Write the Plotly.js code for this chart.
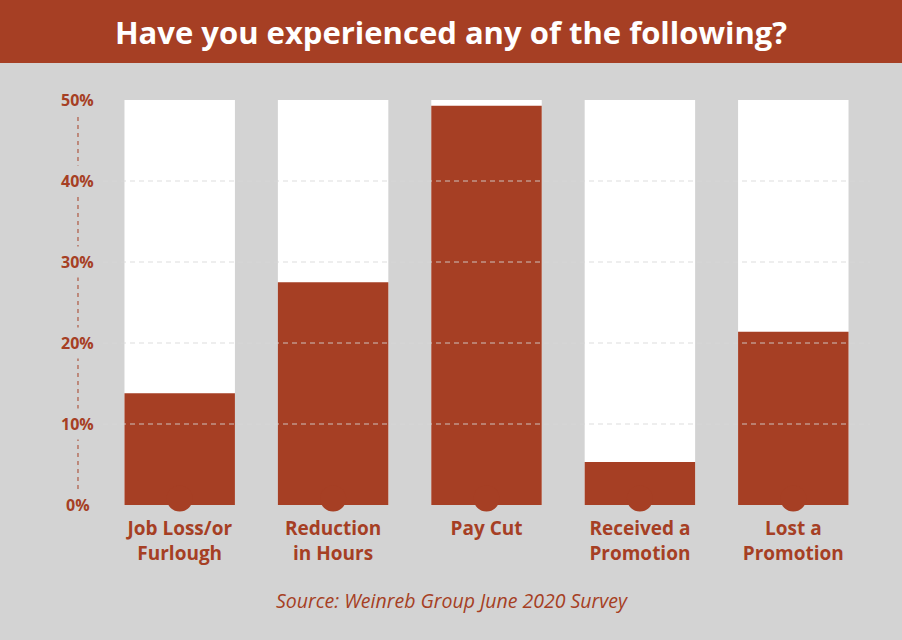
<!DOCTYPE html>
<html>
<head>
<meta charset="utf-8">
<script src="https://cdn.plot.ly/plotly-3.0.1.min.js"></script>
<style>html,body{margin:0;padding:0;background:#D3D3D3;}#chart{width:902px;height:640px;}</style>
</head>
<body>
<div id="chart"></div>
<script>
const categories = ["Job Loss/or<br>Furlough", "Reduction<br>in Hours", "Pay Cut", "Received a<br>Promotion", "Lost a<br>Promotion"];
const percentValues = [13.8, 27.5, 49.3, 5.3, 21.4];
const scaleMax = [50, 50, 50, 50, 50];
const tickValues = [0, 10, 20, 30, 40, 50];
const tickLabels = ["0%", "10%", "20%", "30%", "40%", "50%"];
const bumpLevel = [0.8, 0.8, 0.8, 0.8, 0.8];

const RED = "#A63F24";
const BG = "#D3D3D3";
const FONT = "Open Sans, Montserrat, sans-serif";

const traces = [
  {type: "bar", x: categories, y: scaleMax, marker: {color: "#FFFFFF"}, width: 0.72, hoverinfo: "skip", showlegend: false},
  {type: "bar", x: categories, y: percentValues, marker: {color: RED}, width: 0.72, showlegend: false},
  {type: "scatter", mode: "markers", x: categories, y: bumpLevel, cliponaxis: false,
   marker: {symbol: "circle", size: 26, color: RED}, hoverinfo: "skip", showlegend: false}
];

const yLabelX = -0.0326;
const shapes = [
  {type: "rect", xref: "paper", yref: "paper", x0: -0.2, x1: 1.2, y0: 1.0914, y1: 1.3, fillcolor: RED, line: {width: 0}, layer: "below"},
  {type: "line", xref: "paper", yref: "y", x0: yLabelX, x1: yLabelX, y0: 0, y1: 50, line: {color: RED, width: 1, dash: "4px,4px"}, layer: "below"}
];
tickValues.forEach(v => {
  if (v > 0 && v < 50) {
    shapes.push({type: "line", xref: "paper", yref: "y", x0: 0, x1: 1, y0: v, y1: v,
      line: {color: "rgba(215,215,215,0.85)", width: 1, dash: "5px,4px"}, layer: "above"});
  }
});

const annotations = tickValues.map((v, i) => ({
  xref: "paper", yref: "y", x: yLabelX, y: v, text: "<b>" + tickLabels[i] + "</b>", showarrow: false,
  xanchor: "center", yanchor: "middle", bgcolor: BG, borderpad: 4,
  font: {family: FONT, size: 16, color: RED}
}));
annotations.push({
  xref: "paper", yref: "paper", x: 0.455, y: -0.237, text: "<i>Source: Weinreb Group June 2020 Survey</i>",
  showarrow: false, xanchor: "center", yanchor: "middle", font: {family: FONT, size: 19.5, color: RED}
});

const layout = {
  width: 902, height: 640,
  paper_bgcolor: BG, plot_bgcolor: BG,
  margin: {l: 103, r: 32, t: 100, b: 135},
  barmode: "overlay",
  title: {text: "<b>Have you experienced any of the following?</b>", x: 0.5, xref: "container", xanchor: "center",
    y: 1 - 33 / 640, yref: "container", yanchor: "middle",
    font: {family: FONT, size: 31, color: "#FFFFFF"}},
  xaxis: {range: [-0.5, 4.5], showgrid: false, zeroline: false, showline: false, ticks: "",
    tickfont: {family: FONT, size: 19, color: RED, weight: 700}, ticklabelstandoff: 10},
  yaxis: {range: [0, 50], showgrid: false, zeroline: false, showline: false, showticklabels: false, ticks: "", fixedrange: true},
  shapes: shapes,
  annotations: annotations,
  showlegend: false
};

Plotly.newPlot("chart", traces, layout, {displayModeBar: false, staticPlot: true});
</script>
</body>
</html>
